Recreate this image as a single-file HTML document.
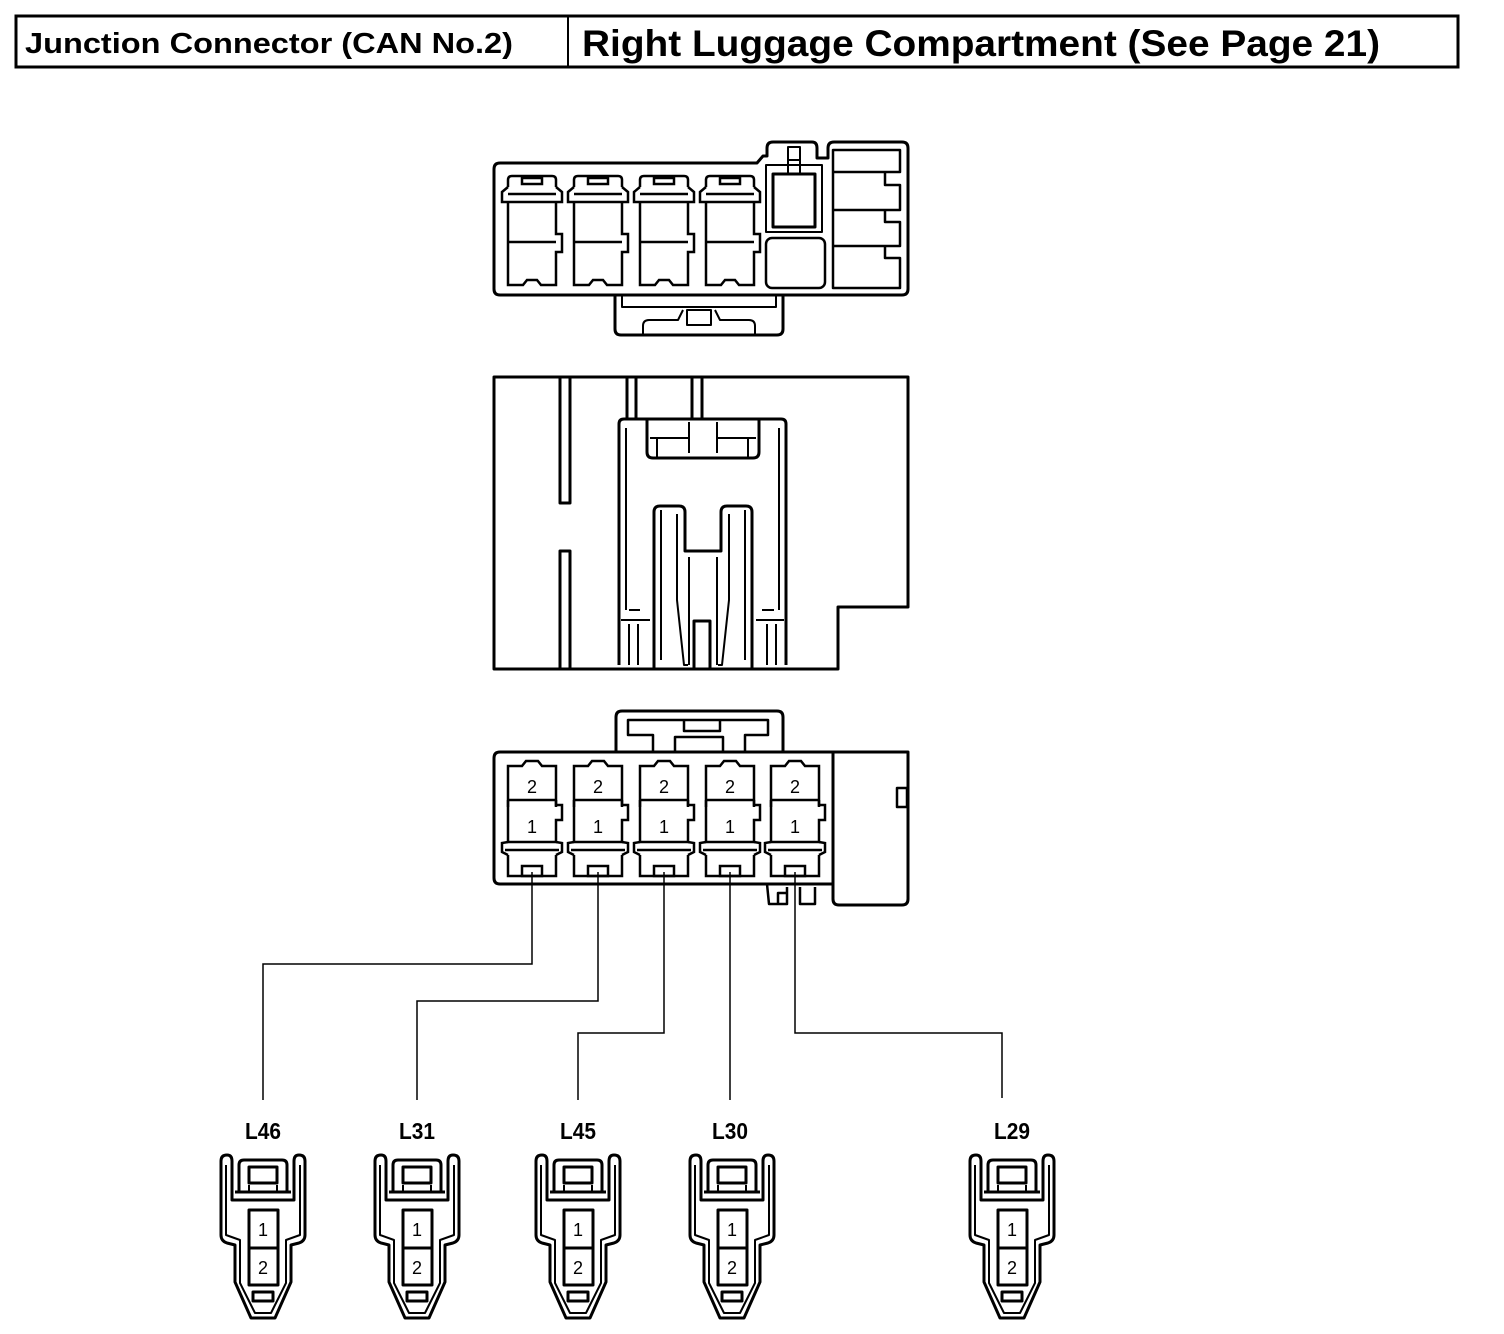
<!DOCTYPE html>
<html><head><meta charset="utf-8"><style>
html,body{margin:0;padding:0;background:#fff}
svg{display:block}
text{font-family:"Liberation Sans",Arial,sans-serif}
</style></head><body>
<svg width="1504" height="1334" viewBox="0 0 1504 1334" xmlns="http://www.w3.org/2000/svg">
<defs>
<g id="small" fill="none" stroke="#000" stroke-width="3" stroke-linejoin="round">
<path d="M-36,0 Q-42,0 -42,6 L-42,80 Q-42,86 -36,88 L-28,90 L-28,127 L-12,163 L12,163 L28,127 L28,90 L36,88 Q42,86 42,80 L42,6 Q42,0 36,0 Q31,0 31,6 L31,45 L-31,45 L-31,6 Q-31,0 -36,0 Z"/>
<path d="M-37,10 L-37,80 L-23,85 L-23,128 L-8,158 L8,158 L23,128 L23,85 L37,80 L37,10" stroke-width="2"/>
<path d="M-24,37 L-24,10 Q-24,5 -19,5 L19,5 Q24,5 24,10 L24,37 Z"/>
<rect x="-14" y="12" width="28" height="16"/>
<line x1="-28" y1="37" x2="28" y2="37"/>
<line x1="-14" y1="30" x2="-14" y2="37" stroke-width="2"/>
<line x1="14" y1="30" x2="14" y2="37" stroke-width="2"/>
<rect x="-14" y="55" width="29" height="75"/>
<line x1="-14" y1="93" x2="15" y2="93"/>
<rect x="-10" y="137" width="20" height="9"/>
</g>
<g id="cavT" fill="none" stroke="#000" stroke-width="2.5">
<path d="M3,15 L3,8 Q3,4 7,4 L47,4 Q51,4 51,8 L51,15"/>
<rect x="17" y="6" width="20" height="6"/>
<path d="M3,15 L-3,20 L-3,30 L3,30 M51,15 L57,20 L57,30 L51,30"/>
<path d="M3,22 L51,22 M3,30 L51,30"/>
<path d="M3,30 L3,113 L18,113 L22,108 L32,108 L36,113 L51,113 L51,80 L57,80 L57,62 L51,62 L51,30"/>
<line x1="3" y1="70" x2="51" y2="70"/>
</g>
<g id="cavB" fill="none" stroke="#000" stroke-width="2.5">
<path d="M3,50 L3,9 L17,9 L21,4 L33,4 L37,9 L51,9 L51,50"/>
<line x1="3" y1="43" x2="51" y2="43"/>
<path d="M3,43 L3,85 L51,85 L51,63 L57,63 L57,48 L51,48 L51,43"/>
<path d="M3,85 L-3,86 L-3,95 L3,98 M51,85 L57,86 L57,95 L51,98 M0,93 L54,93"/>
<path d="M3,98 L3,119 L51,119 L51,98"/>
<rect x="17" y="109" width="20" height="10"/>
</g>
</defs>

<rect x="16" y="16" width="1442" height="51" fill="none" stroke="#000" stroke-width="3"/>
<line x1="568" y1="16" x2="568" y2="67" stroke="#000" stroke-width="2"/>
<text x="25" y="53" font-size="29" font-weight="bold" textLength="488" lengthAdjust="spacingAndGlyphs">Junction Connector (CAN No.2)</text>
<text x="582" y="56" font-size="37" font-weight="bold" textLength="798" lengthAdjust="spacingAndGlyphs">Right Luggage Compartment (See Page 21)</text>

<g fill="none" stroke="#000" stroke-width="3" stroke-linejoin="round">
<path d="M500,163 L757,163 L763,156 L767,156 L767,148 Q767,142 773,142 L812,142 Q817,142 817,148 L817,158 L828,158 L828,148 Q828,142 834,142 L902,142 Q908,142 908,148 L908,289 Q908,295 902,295 L500,295 Q494,295 494,289 L494,169 Q494,163 500,163 Z"/>
<path d="M615,295 L615,329 Q615,335 621,335 L777,335 Q783,335 783,329 L783,295"/>
<path d="M622,295 L622,307 L776,307 L776,295" stroke-width="2"/>
<path d="M643,335 L643,326 Q643,320 649,320 L678,320 L683,310 M755,335 L755,326 Q755,320 749,320 L720,320 L715,310" stroke-width="2"/>
<rect x="687" y="310" width="24" height="15" stroke-width="2"/>
<rect x="766" y="165" width="56" height="67" stroke-width="2"/>
<rect x="773" y="174" width="42" height="53"/>
<path d="M788,174 L788,147 L800,147 L800,174 M788,160 L800,160" stroke-width="2"/>
<rect x="766" y="238" width="59" height="50" rx="6" stroke-width="2.5"/>
<path d="M833,150 L900,150 L900,172 L885,172 L885,185 L900,185 L900,210 L885,210 L885,222 L900,222 L900,246 L885,246 L885,258 L900,258 L900,288 L833,288 Z M833,172 L885,172 M833,210 L885,210 M833,246 L885,246" stroke-width="2.5"/>
</g>
<use href="#cavT" x="505" y="172"/>
<use href="#cavT" x="571" y="172"/>
<use href="#cavT" x="637" y="172"/>
<use href="#cavT" x="703" y="172"/>

<g fill="none" stroke="#000" stroke-width="3" stroke-linejoin="round">
<path d="M494,377 L908,377 L908,607 L838,607 L838,669 L494,669 Z"/>
<path d="M560,377 L560,503 L570,503 L570,377 M560,669 L560,551 L570,551 L570,669"/>
<path d="M627,377 L627,419 M636,377 L636,419 M692,377 L692,419 M702,377 L702,419"/>
<path d="M619,665 L619,424 Q619,419 624,419 L781,419 Q786,419 786,424 L786,665" />
<path d="M626,428 L626,610 M779,428 L779,610" stroke-width="2"/>
<path d="M647,419 L647,452 Q647,458 653,458 L753,458 Q759,458 759,452 L759,419" />
<path d="M650,438 L689,438 M717,438 L756,438 M657,438 L657,458 M748,438 L748,458 M689,422 L689,453 M717,422 L717,453" stroke-width="2"/>
<path d="M654,669 L654,512 Q654,506 660,506 L679,506 Q685,506 685,512 L685,551 L721,551 L721,512 Q721,506 727,506 L746,506 Q752,506 752,512 L752,669"/>
<path d="M661,510 L661,660 M745,510 L745,660 M677,514 L677,600 L684,665 L688,665 M729,514 L729,600 L722,665 L718,665" stroke-width="2"/>
<path d="M689,557 L689,665 M717,557 L717,665" stroke-width="2"/>
<path d="M694,669 L694,621 L710,621 L710,669"/>
<path d="M621,620 L650,620 M756,620 L784,620 M629,610 L640,610 M762,610 L774,610 M629,624 L629,665 M638,624 L638,665 M767,624 L767,665 M776,624 L776,665" stroke-width="2"/>
</g>

<g fill="none" stroke="#000" stroke-width="3" stroke-linejoin="round">
<path d="M616,752 L616,717 Q616,711 622,711 L777,711 Q783,711 783,717 L783,752"/>
<path d="M653,752 L653,735 L628,735 L628,720 L768,720 L768,735 L745,735 L745,752 M675,752 L675,737 L723,737 L723,752 M684,720 L684,731 L720,731 L720,720" stroke-width="2.5"/>
<path d="M500,752 L908,752 L908,899 Q908,905 902,905 L839,905 Q833,905 833,899 L833,884 L500,884 Q494,884 494,878 L494,758 Q494,752 500,752 Z"/>
<line x1="833" y1="752" x2="833" y2="884"/>
<rect x="897" y="788" width="10" height="19" stroke-width="2.5"/>
<path d="M767,884 L769,904 L787,904 L787,887 M800,887 L800,904 L815,904 L815,887 M778,904 L778,893 L787,893" stroke-width="2.5"/>
</g>
<use href="#cavB" x="505" y="757"/>
<use href="#cavB" x="571" y="757"/>
<use href="#cavB" x="637" y="757"/>
<use href="#cavB" x="703" y="757"/>
<use href="#cavB" x="768" y="757"/>
<g font-size="18" text-anchor="middle">
<text x="532" y="793">2</text><text x="598" y="793">2</text><text x="664" y="793">2</text><text x="730" y="793">2</text><text x="795" y="793">2</text>
<text x="532" y="833">1</text><text x="598" y="833">1</text><text x="664" y="833">1</text><text x="730" y="833">1</text><text x="795" y="833">1</text>
</g>

<g fill="none" stroke="#000" stroke-width="1.5">
<path d="M532,872 L532,964 L263,964 L263,1100"/>
<path d="M598,872 L598,1001 L417,1001 L417,1100"/>
<path d="M664,872 L664,1033 L578,1033 L578,1100"/>
<path d="M730,872 L730,1100"/>
<path d="M795,872 L795,1033 L1002,1033 L1002,1098"/>
</g>

<use href="#small" x="263" y="1155"/>
<use href="#small" x="417" y="1155"/>
<use href="#small" x="578" y="1155"/>
<use href="#small" x="732" y="1155"/>
<use href="#small" x="1012" y="1155"/>
<g font-size="23" font-weight="bold" text-anchor="middle">
<text x="263" y="1139" textLength="36" lengthAdjust="spacingAndGlyphs">L46</text>
<text x="417" y="1139" textLength="36" lengthAdjust="spacingAndGlyphs">L31</text>
<text x="578" y="1139" textLength="36" lengthAdjust="spacingAndGlyphs">L45</text>
<text x="730" y="1139" textLength="36" lengthAdjust="spacingAndGlyphs">L30</text>
<text x="1012" y="1139" textLength="36" lengthAdjust="spacingAndGlyphs">L29</text>
</g>
<g font-size="18" text-anchor="middle">
<text x="263" y="1236">1</text><text x="417" y="1236">1</text><text x="578" y="1236">1</text><text x="732" y="1236">1</text><text x="1012" y="1236">1</text>
<text x="263" y="1274">2</text><text x="417" y="1274">2</text><text x="578" y="1274">2</text><text x="732" y="1274">2</text><text x="1012" y="1274">2</text>
</g>
</svg>
</body></html>
